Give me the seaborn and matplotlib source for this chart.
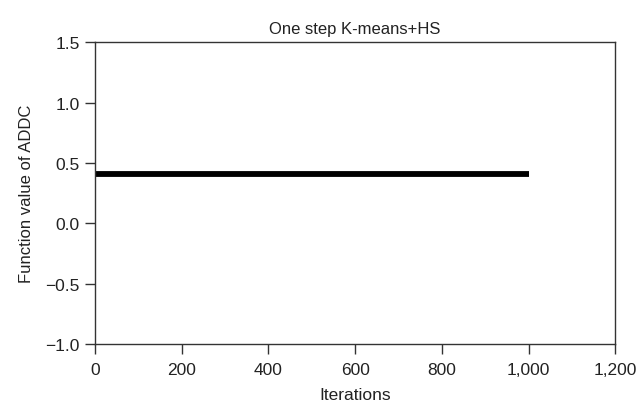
import matplotlib
matplotlib.use("Agg")
import matplotlib.pyplot as plt
from matplotlib.ticker import FuncFormatter, MultipleLocator
import pandas as pd
import seaborn as sns

# data
iterations = [0, 1000]
addc_values = [0.41, 0.41]

df = pd.DataFrame({"Iterations": iterations, "ADDC": addc_values})

sns.set_style("white")
plt.rcParams['font.family'] = ['Liberation Sans', 'DejaVu Sans']

fig = plt.figure(figsize=(6.41, 4.10), dpi=100)
ax = fig.add_axes([0.148, 0.159, 0.812, 0.735])

sns.lineplot(data=df, x="Iterations", y="ADDC", color="black", linewidth=4.2, ax=ax)
ax.lines[0].set_solid_capstyle("butt")

ax.set_xlim(0, 1200)
ax.set_ylim(-1.0, 1.5)
ax.xaxis.set_major_locator(MultipleLocator(200))
ax.yaxis.set_major_locator(MultipleLocator(0.5))
ax.xaxis.set_major_formatter(FuncFormatter(lambda v, p: "{:,.0f}".format(v)))

ax.set_title("One step K-means+HS", fontsize=12, color="#222222", pad=7)
ax.set_xlabel("Iterations", fontsize=12.5, color="#222222", labelpad=7)
ax.set_ylabel("Function value of ADDC", fontsize=12, color="#222222", labelpad=8)

for s in ax.spines.values():
    s.set_color("#333333")
    s.set_linewidth(1.0)
ax.tick_params(axis="both", direction="out", length=7, width=1, color="#333333",
               labelsize=12.5, labelcolor="#222222", left=True, bottom=True, pad=4)
ax.tick_params(axis="x", pad=6)

fig.savefig("out.png", dpi=100)
